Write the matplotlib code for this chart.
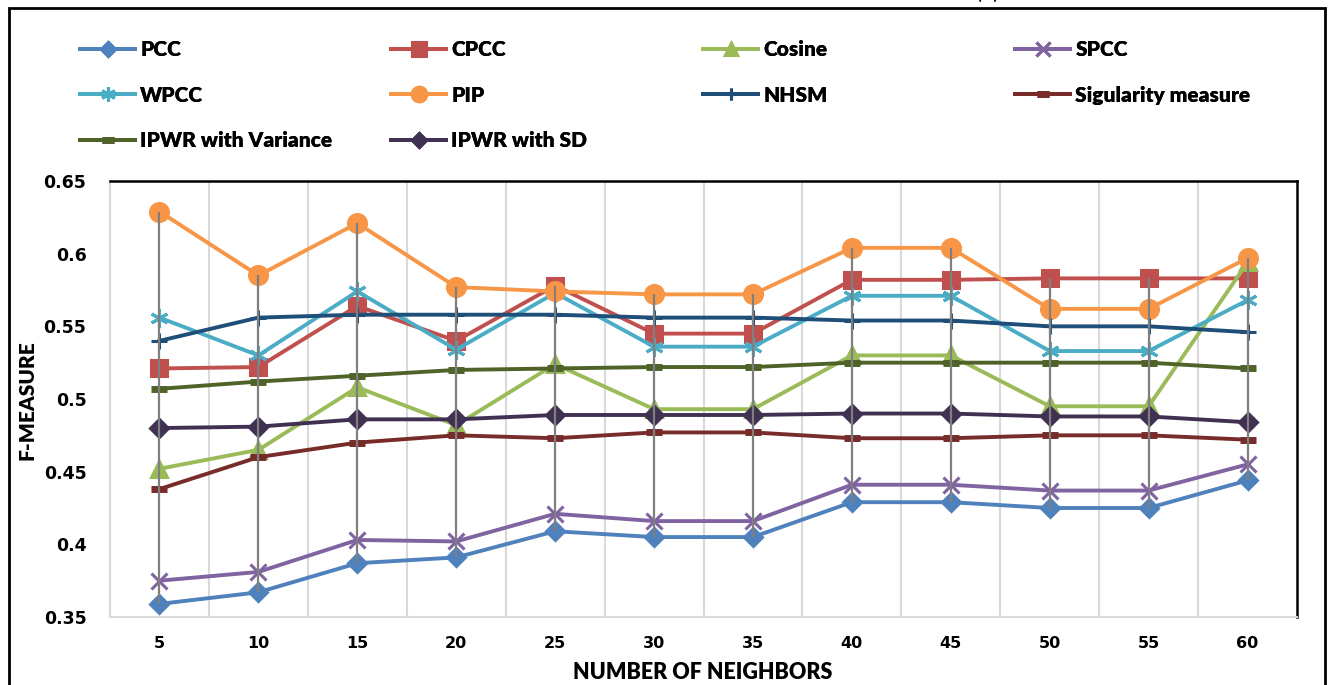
import matplotlib.pyplot as plt
from matplotlib.patches import Rectangle
import numpy as np

# data
neighbors = [5, 10, 15, 20, 25, 30, 35, 40, 45, 50, 55, 60]
pcc = [0.359, 0.367, 0.387, 0.391, 0.409, 0.405, 0.405, 0.429, 0.429, 0.425, 0.425, 0.444]
cpcc = [0.521, 0.522, 0.564, 0.540, 0.578, 0.545, 0.545, 0.582, 0.582, 0.583, 0.583, 0.583]
cosine = [0.452, 0.465, 0.508, 0.482, 0.524, 0.493, 0.493, 0.530, 0.530, 0.495, 0.495, 0.594]
spcc = [0.375, 0.381, 0.403, 0.402, 0.421, 0.416, 0.416, 0.441, 0.441, 0.437, 0.437, 0.455]
wpcc = [0.556, 0.530, 0.574, 0.534, 0.573, 0.536, 0.536, 0.571, 0.571, 0.533, 0.533, 0.568]
pip = [0.629, 0.585, 0.621, 0.577, 0.574, 0.572, 0.572, 0.604, 0.604, 0.562, 0.562, 0.597]
nhsm = [0.540, 0.556, 0.558, 0.558, 0.558, 0.556, 0.556, 0.554, 0.554, 0.550, 0.550, 0.546]
singularity = [0.438, 0.460, 0.470, 0.475, 0.473, 0.477, 0.477, 0.473, 0.473, 0.475, 0.475, 0.472]
ipwr_var = [0.507, 0.512, 0.516, 0.520, 0.521, 0.522, 0.522, 0.525, 0.525, 0.525, 0.525, 0.521]
ipwr_sd = [0.480, 0.481, 0.486, 0.486, 0.489, 0.489, 0.489, 0.490, 0.490, 0.488, 0.488, 0.484]

labels = ['PCC', 'CPCC', 'Cosine', 'SPCC', 'WPCC', 'PIP', 'NHSM',
          'Sigularity measure', 'IPWR with Variance', 'IPWR with SD']
series = [pcc, cpcc, cosine, spcc, wpcc, pip, nhsm, singularity, ipwr_var, ipwr_sd]

colors = ['#4F81BD', '#C0504D', '#9BBB59', '#8064A2', '#4BACC6', '#F79646',
          '#1F4E79', '#772C2A', '#4F6228', '#403152']
markers = ['D', 's', '^', 'x', (6, 2, 0), 'o', '+', '_', '_', 'D']
msizes = [9, 12, 11, 12, 13, 13, 11, 11, 11, 9]

fig = plt.figure(figsize=(13.31, 6.85), dpi=100)
ax = fig.add_axes([110 / 1331, 1 - 617 / 685, 1187 / 1331, 436 / 685])

x = np.arange(len(neighbors))
lines = []
for i, (vals, lab) in enumerate(zip(series, labels)):
    ln, = ax.plot(x, vals, color=colors[i], lw=2.8, marker=markers[i],
                  ms=msizes[i], mew=2.2 if markers[i] != '_' else 5,
                  label=lab, zorder=3 + i * 0.1)
    lines.append(ln)

# high-low drop lines
data = np.array(series)
ax.vlines(x, data.min(axis=0), data.max(axis=0), color='#7F7F7F', lw=1.6, zorder=10)

ax.set_xlim(-0.5, len(neighbors) - 0.5)
ax.set_ylim(0.35, 0.65)
ax.set_yticks(np.arange(0.35, 0.651, 0.05))
ax.set_yticklabels(['0.35', '0.4', '0.45', '0.5', '0.55', '0.6', '0.65'])
ax.set_xticks(x)
ax.set_xticklabels([str(n) for n in neighbors])
ax.set_xticks(np.arange(0.5, len(neighbors) - 1, 1), minor=True)
ax.grid(True, which='minor', axis='x', color='#D9D9D9', lw=1.5)
ax.tick_params(axis='both', which='both', length=0)
ax.tick_params(axis='y', pad=17, labelsize=12.5)
ax.tick_params(axis='x', pad=14, labelsize=11.5)
for t in ax.get_xticklabels() + ax.get_yticklabels():
    t.set_fontweight('bold')

ax.spines['top'].set_color('black')
ax.spines['right'].set_color('black')
ax.spines['top'].set_linewidth(1.8)
ax.spines['right'].set_linewidth(1.8)
ax.spines['left'].set_color('#D9D9D9')
ax.spines['bottom'].set_color('#D9D9D9')
ax.spines['left'].set_linewidth(1.5)
ax.spines['bottom'].set_linewidth(1.5)

ax.set_ylabel('F-MEASURE', family='Lato', fontweight='heavy', fontsize=15)
ax.yaxis.set_label_coords(-0.0623, 0.498)
ax.set_xlabel('NUMBER OF NEIGHBORS', family='Lato', fontweight='heavy', fontsize=15.5)
ax.xaxis.set_label_coords(0.4996, -0.103)
ax.xaxis.label.set_va('top')

# legend: four columns, Excel row-major order
columns = [[0, 4, 8], [1, 5, 9], [2, 6], [3, 7]]
col_x = [80, 391, 703, 1015]
for cx, idx in zip(col_x, columns):
    leg = fig.legend([lines[i] for i in idx], [labels[i] for i in idx],
                     loc='upper left', bbox_to_anchor=(cx / 1331, 1 - 40 / 685),
                     frameon=False, borderpad=0, borderaxespad=0,
                     handlelength=2.65, handletextpad=0.25, labelspacing=1.28,
                     markerscale=0.8,
                     prop={'family': 'Lato', 'weight': 'heavy', 'size': 15})
    fig.add_artist(leg)

# outer frame and caption cut off at the top edge, as in the reference
fig.patches.append(Rectangle((9 / 1331, -0.1), 1316 / 1331, 1.1 - 8 / 685,
                             transform=fig.transFigure, fill=False,
                             edgecolor='black', lw=2, clip_on=False))
fig.text(988 / 1331, 1 + 7 / 685, '(a)', ha='center', va='center',
         family='Lato', fontsize=16)

fig.savefig('out.png', dpi=100)
